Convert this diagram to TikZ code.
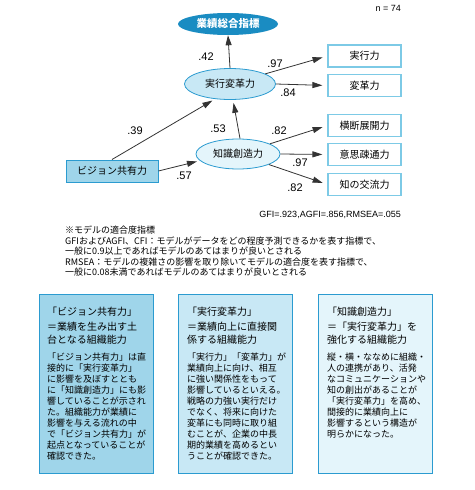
\documentclass[tikz,border=0pt]{standalone}
\usepackage{fontspec}
\setmainfont{Liberation Sans}
\newfontfamily\jp{Noto Sans CJK JP}
\usetikzlibrary{positioning, arrows.meta, shapes.geometric}
\definecolor{Ink}{HTML}{333333}
\definecolor{Deep}{HTML}{1A8CC2}
\definecolor{Edge}{HTML}{2B9BD0}
\definecolor{Pale}{HTML}{7DCAE6}
\definecolor{MidFill}{HTML}{9FD5EA}
\definecolor{SoftFill}{HTML}{C8E8F5}
\definecolor{IceFill}{HTML}{E4F5FB}
\tikzset{
    goalnode/.style={ellipse, fill=Deep, text=white, inner sep=0pt, minimum width=100pt, minimum height=22pt, font=\jp\bfseries\fontsize{10.5}{12}\selectfont},
    factornode/.style={ellipse, draw=Edge, line width=0.8pt, inner sep=0pt, text=black, font=\jp\fontsize{10}{12}\selectfont},
    itemnode/.style={rectangle, draw=Pale, line width=1.2pt, fill=white, inner sep=0pt, minimum width=73pt, minimum height=22pt, font=\jp\fontsize{10}{12}\selectfont},
    sourcenode/.style={rectangle, draw=Edge, line width=1pt, fill=MidFill, inner sep=0pt, minimum width=92pt, minimum height=22pt, font=\jp\fontsize{10}{12}\selectfont},
    coef/.style={font=\fontsize{11}{13}\selectfont, text=black, inner sep=0pt},
    arrow/.style={-{Triangle[length=10pt,width=6pt]}, line width=0.8pt, color=Ink},
    notecard/.style={rectangle, draw=Edge, line width=1pt, minimum width=114pt, minimum height=179pt, inner sep=0pt, anchor=north west},
    cardtitle/.style={anchor=north west, inner sep=0pt, align=left, font=\jp\fontsize{10}{12.5}\selectfont},
    cardbody/.style={anchor=north west, inner sep=0pt, align=left, font=\jp\fontsize{9}{11}\selectfont},
}

\begin{document}
\begin{tikzpicture}[x=1pt, y=-1pt]
    \useasboundingbox (0,0) rectangle (474,490);

    % --- modello ---
    \node[font=\fontsize{9}{11}\selectfont, anchor=east, inner sep=0pt] (nsize) at (401,8) {n = 74};

    \node[goalnode] (goal) at (228,24) {業績総合指標};
    \node[factornode, fill=SoftFill, minimum width=91pt, minimum height=31pt] (jikkou) at (230,84) {実行変革力};
    \node[factornode, fill=IceFill, minimum width=84pt, minimum height=30pt] (chishiki) at (238,154) {知識創造力};
    \node[sourcenode] (vision) at (112,171) {ビジョン共有力};

    \node[itemnode] (jk) at (364.5,56) {実行力};
    \node[itemnode] (hk) at (364.5,85.5) {変革力};
    \node[itemnode] (od) at (364.5,125.5) {横断展開力};
    \node[itemnode] (is) at (364.5,154.5) {意思疎通力};
    \node[itemnode] (kr) at (364.5,184.5) {知の交流力};

    % frecce
    \draw[arrow] (jikkou.north) -- (goal.south);
    \draw[arrow, shorten >=3pt] ([xshift=2pt]chishiki.north) -- ([xshift=3pt]jikkou.south);
    \draw[arrow, shorten >=3pt] (vision.north) -- (jikkou.225);
    \draw[arrow, shorten >=3pt] (vision.east) -- (chishiki.190);
    \draw[arrow, shorten >=5pt] (jikkou) -- (jk.west);
    \draw[arrow, shorten >=5pt] (jikkou.east) -- (hk.west);
    \draw[arrow, shorten >=5pt] (chishiki) -- (od.west);
    \draw[arrow, shorten >=5pt] (chishiki.east) -- (is.west);
    \draw[arrow, shorten >=5pt] (chishiki) -- (kr.west);

    % coefficienti
    \node[coef] (c42) at (206,57) {.42};
    \node[coef] (c97a) at (275,64) {.97};
    \node[coef] (c84) at (288,93) {.84};
    \node[coef] (c39) at (135,131) {.39};
    \node[coef] (c53) at (218,129) {.53};
    \node[coef] (c57) at (184,176) {.57};
    \node[coef] (c82a) at (279,131) {.82};
    \node[coef] (c97b) at (300,163) {.97};
    \node[coef] (c82b) at (295,188) {.82};

    % --- indici ---
    \node[font=\fontsize{9}{11}\selectfont, anchor=east, inner sep=0pt] (fit) at (401,215) {GFI=.923,AGFI=.856,RMSEA=.055};
    \node[anchor=north west, inner sep=0pt, align=left, font=\jp\fontsize{9}{10.5}\selectfont] (notes) at (65,226) {※モデルの適合度指標\\
        GFIおよびAGFI、CFI：モデルがデータをどの程度予測できるかを表す指標で、\\
        一般に0.9以上であればモデルのあてはまりが良いとされる\\
        RMSEA：モデルの複雑さの影響を取り除いてモデルの適合度を表す指標で、\\
        一般に0.08未満であればモデルのあてはまりが良いとされる};

    % --- schede ---
    \node[notecard, fill=MidFill] (card1) at (39,294) {};
    \node[cardtitle] (t1) at ([xshift=8pt, yshift=-13pt]card1.north west) {「ビジョン共有力」\\[2.5pt]＝業績を生み出す土\\台となる組織能力};
    \node[cardbody] (b1) at ([yshift=-8pt]t1.south west) {「ビジョン共有力」は直\\接的に「実行変革力」\\に影響を及ぼすととも\\に「知識創造力」にも影\\響していることが示され\\た。組織能力が業績に\\影響を与える流れの中\\で「ビジョン共有力」が\\起点となっていることが\\確認できた。};

    \node[notecard, fill=SoftFill] (card2) at (178,294) {};
    \node[cardtitle] (t2) at ([xshift=9pt, yshift=-13pt]card2.north west) {「実行変革力」\\[2.5pt]＝業績向上に直接関\\係する組織能力};
    \node[cardbody] (b2) at ([yshift=-8pt]t2.south west) {「実行力」「変革力」が\\業績向上に向け、相互\\に強い関係性をもって\\影響しているといえる。\\戦略の力強い実行だけ\\でなく、将来に向けた\\変革にも同時に取り組\\むことが、企業の中長\\期的業績を高めるとい\\うことが確認できた。};

    \node[notecard, fill=IceFill] (card3) at (318,294) {};
    \node[cardtitle] (t3) at ([xshift=9pt, yshift=-13pt]card3.north west) {「知識創造力」\\[2.5pt]＝「実行変革力」を\\強化する組織能力};
    \node[cardbody] (b3) at ([yshift=-8pt]t3.south west) {縦・横・ななめに組織・\\人の連携があり、活発\\なコミュニケーションや\\知の創出があることが\\「実行変革力」を高め、\\間接的に業績向上に\\影響するという構造が\\明らかになった。};
\end{tikzpicture}
\end{document}
